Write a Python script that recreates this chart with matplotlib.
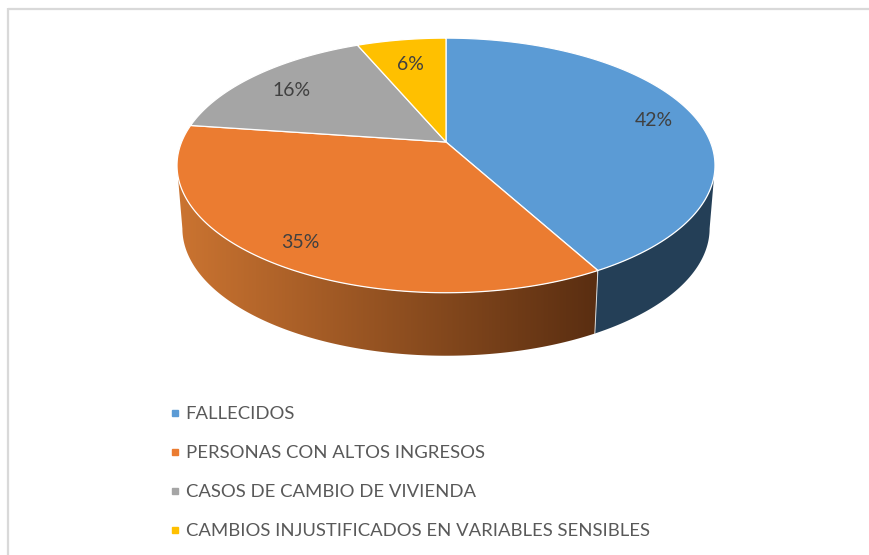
import numpy as np
import matplotlib
matplotlib.use("Agg")
import matplotlib.pyplot as plt
from matplotlib.colors import LinearSegmentedColormap
from matplotlib.lines import Line2D
from matplotlib.patches import Polygon

plt.rcParams['font.family'] = ['Lato', 'DejaVu Sans']

# Data
categories = ["FALLECIDOS", "PERSONAS CON ALTOS INGRESOS",
              "CASOS DE CAMBIO DE VIVIENDA",
              "CAMBIOS INJUSTIFICADOS EN VARIABLES SENSIBLES"]
values = [42.0, 35.2, 16.4, 6.4]
colors = ["#5B9BD5", "#EB7C31", "#A5A5A5", "#FFC000"]
side_colors = ["#243F57", None, "#5F5F5F", "#7F6000"]
label_radius = [0.843, 0.864, 0.80, 0.75]
label_shift = [(0, 3), (3, 0), (0, 3), (-1, 2)]

# Perspective of the pie, in pixels
cx, cy = 446, 142
A, B, k = 264.4, 123, 0.184
depth = 63
bottom_scale = 0.98


def project(theta, r=1.0):
    # theta clockwise from the top of the pie
    x = r * np.sin(theta)
    y = r * np.cos(theta)
    w = 1 + k * y
    return cx + A * x / w, cy - B * y / w


fig = plt.figure(figsize=(8.7, 5.55), dpi=100)
ax = fig.add_axes([0, 0, 1, 1])

# Chart border, only top and left show
ax.plot([8, 8], [555, 8], color="#D9D9D9", lw=1.6, solid_capstyle="butt")
ax.plot([8, 870], [8.5, 8.5], color="#D9D9D9", lw=1.6, solid_capstyle="butt")

fractions = np.array(values) / sum(values)
edges = np.concatenate([[0], np.cumsum(fractions)]) * 2 * np.pi

orange_grad = LinearSegmentedColormap.from_list("side", ["#CB7431", "#5A2E11"])

# The side wall only runs between the right and left extremes of the ellipse
grid = np.linspace(0, 2 * np.pi, 2000)
t_right = grid[np.argmax(project(grid)[0])]
t_left = grid[np.argmin(project(grid)[0])]

for i in range(len(values)):
    start = max(edges[i], t_right)
    stop = min(edges[i + 1], t_left)
    if start >= stop:
        continue
    t = np.linspace(start, stop, 150)
    X, Y = project(t)
    Xb = cx + (X - cx) * bottom_scale
    Yb = Y + depth
    pts = np.column_stack([np.r_[X, Xb[::-1]], np.r_[Y, Yb[::-1]]])
    if side_colors[i] is None:
        poly = Polygon(pts, closed=True, facecolor="none", edgecolor="none", zorder=2)
        ax.add_patch(poly)
        grad = np.linspace(0, 1, 256).reshape(1, -1)
        im = ax.imshow(grad, cmap=orange_grad, extent=[177, 597, 360, 120],
                       aspect="auto", zorder=2)
        im.set_clip_path(poly)
    else:
        ax.add_patch(Polygon(pts, closed=True, facecolor=side_colors[i],
                             edgecolor="none", zorder=2))
    # thin light line between the sides
    if start > t_right:
        ax.plot([X[0], Xb[0]], [Y[0], Yb[0]], color="#D8D8D8", lw=0.7, zorder=2.5)

# Top faces
for i in range(len(values)):
    t = np.linspace(edges[i], edges[i + 1], 150)
    X, Y = project(t)
    pts = np.column_stack([np.r_[cx, X], np.r_[cy, Y]])
    ax.add_patch(Polygon(pts, closed=True, facecolor=colors[i], edgecolor="white",
                         lw=0.9, joinstyle="round", zorder=3))

# Data labels
for i in range(len(values)):
    mid = (edges[i] + edges[i + 1]) / 2
    lx, ly = project(mid, label_radius[i])
    ax.text(lx + label_shift[i][0], ly + label_shift[i][1], "%.0f%%" % values[i],
            color="#404040", fontsize=14, ha="center", va="center", zorder=4)

# Legend
handles = [Line2D([], [], linestyle="none", marker="s", markersize=5,
                  color=c) for c in colors]
leg = ax.legend(handles, categories, loc="upper left", bbox_to_anchor=(0.188, 0.268),
                frameon=False, fontsize=13.3, labelcolor="#595959", labelspacing=1.24,
                handletextpad=0.0, handlelength=1.2, borderpad=0, borderaxespad=0)

ax.set_xlim(0, 870)
ax.set_ylim(555, 0)
ax.axis("off")

fig.savefig("out.png", dpi=100, facecolor="white")
